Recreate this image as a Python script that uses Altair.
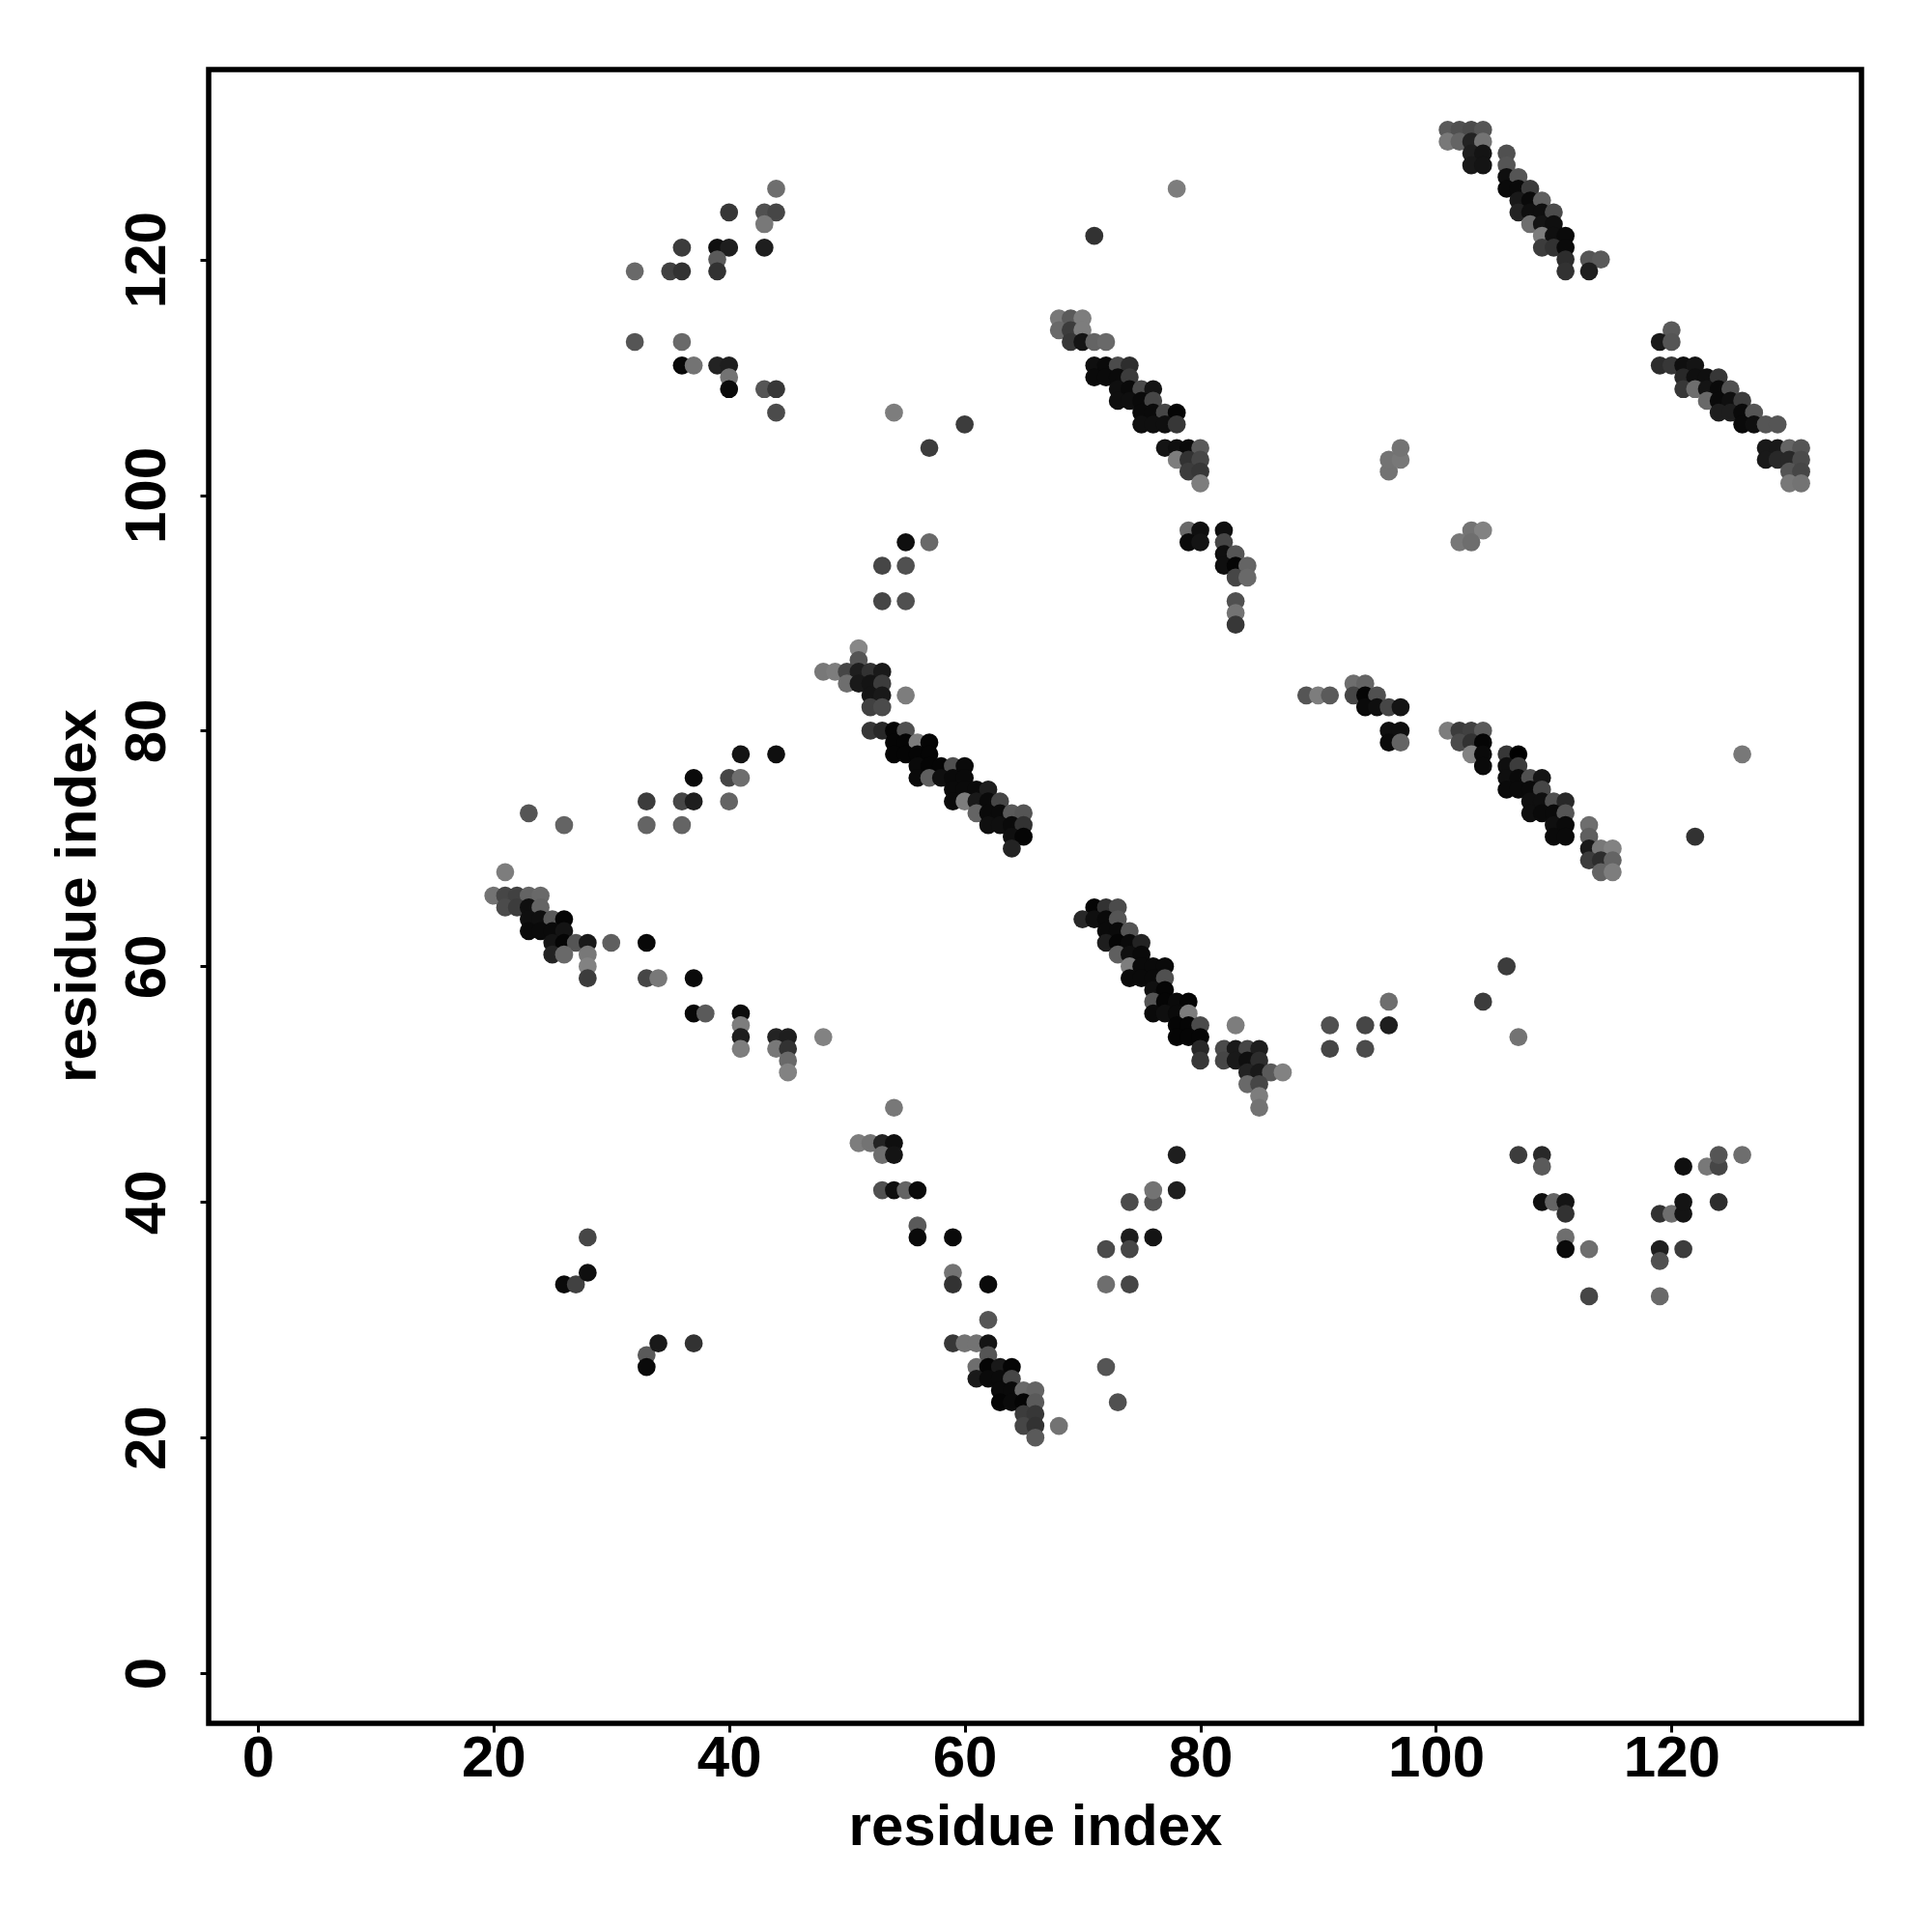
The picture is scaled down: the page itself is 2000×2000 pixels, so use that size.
import altair as alt
import pandas as pd

# one entry per row of the contact map: y residue, x residues on that row, grey level of each
y_rows = [
    68, 66, 65, 64, 63, 62, 61, 60, 59, 56, 55, 54, 53, 52, 51,
    87, 86, 85, 84, 83, 82, 80, 79, 78, 77, 76, 75, 74, 73, 72, 71, 70,
    115, 114, 113, 111, 110, 109, 108, 107, 106, 104, 103, 102, 101,
    131, 130, 129, 128, 127, 126, 125, 124, 123, 122, 121, 120, 119,
    114, 113, 111, 110, 109, 108, 107, 106, 104, 103, 102, 101,
    65, 64, 63, 62, 61, 60, 59, 58, 57, 56, 55, 54, 53, 52, 51, 50, 49, 48, 55,
    80, 79, 78, 77, 76, 75, 74, 73, 72, 71, 70, 69, 68,
    30, 28, 27, 26, 25, 24, 23, 22, 21, 20,
    97, 96, 95, 94, 93, 91, 90, 89,
    84, 83, 82, 80, 79,
    126, 124, 123, 121, 120, 119, 113, 111, 110, 109, 107,
    107, 104, 106, 122, 126, 102, 103, 104, 97, 96, 96, 94, 91,
    73, 72, 74, 72, 76, 78,
    78, 71, 60, 57, 54, 55, 53, 57,
    44, 43, 40, 39, 37, 36, 32,
    39, 40, 43, 44, 36, 35, 32,
    48, 45, 44, 41, 38, 37, 34, 33,
    36, 33, 40, 37, 36, 33, 41, 44,
    26, 23, 33, 34, 37, 27, 26, 28, 28,
]
x_rows = [
    [21], [20, 21, 22, 23, 24], [21, 22, 23, 24], [23, 24, 25, 26], [23, 24, 25, 26],
    [25, 26, 27, 28, 30, 33], [25, 26, 28], [28], [28, 33, 34, 37], [37, 38, 41], [41],
    [41, 44, 45, 48], [41, 44, 45], [45], [45],
    [51], [51], [48, 49, 50, 51, 52, 53], [50, 51, 52, 53], [52, 53, 55], [52, 53],
    [52, 53, 54, 55], [54, 55, 56, 57], [54, 55, 56, 57], [56, 57, 58, 59, 60],
    [56, 57, 58, 59, 60], [59, 60, 61, 62], [59, 60, 61, 62, 63], [61, 62, 63, 64, 65],
    [62, 63, 64, 65], [64, 65], [64],
    [68, 69, 70], [68, 69, 70], [69, 70, 71, 72], [71, 72, 73, 74], [71, 72, 73, 74],
    [73, 74, 75, 76], [73, 74, 75, 76], [75, 76, 77, 78], [75, 76, 77, 78],
    [77, 78, 79, 80], [78, 79, 80], [79, 80], [80],
    [101, 102, 103, 104], [101, 102, 103, 104], [103, 104, 106], [103, 104, 106],
    [106, 107], [106, 107, 108], [107, 108, 109], [107, 108, 109, 110], [108, 109, 110],
    [109, 110, 111], [109, 110, 111], [111, 113, 114], [111, 113],
    [120], [119, 120], [119, 120, 121, 122], [121, 122, 123, 124], [121, 122, 123, 124, 125],
    [123, 124, 125, 126], [124, 125, 126, 127], [126, 127, 128, 129], [128, 129, 130, 131],
    [128, 129, 130, 131], [130, 131], [130, 131],
    [71, 72, 73], [70, 71, 72, 73], [72, 73, 74], [72, 73, 74, 75], [73, 74, 75],
    [74, 75, 76, 77], [74, 75, 76, 77], [76, 77], [76, 77, 78, 79], [76, 77, 78, 79],
    [78, 79, 80], [78, 79, 80], [80, 82, 83, 84, 85], [80, 82, 83, 84, 85], [84, 85, 86, 87],
    [84, 85], [85], [85], [83],
    [101, 102, 103, 104], [102, 103, 104], [103, 104, 106, 107], [104, 106, 107],
    [106, 107, 108, 109], [106, 107, 108, 109], [108, 109, 110, 111], [108, 109, 110, 111],
    [110, 111, 113], [110, 111, 113], [113, 114, 115], [113, 114, 115], [114, 115],
    [62], [59, 60, 61, 62], [62], [61, 62, 63, 64], [61, 62, 63, 64], [63, 64, 65, 66],
    [63, 64, 65, 66], [65, 66], [65, 66, 68], [66],
    [79, 80, 82], [79, 80, 82], [82, 83], [82, 83, 84], [83, 84], [83], [83], [83],
    [93, 94], [89, 90, 91, 93, 94, 95], [94, 95, 96, 97], [96, 97], [96, 97],
    [44], [40, 43, 44], [43], [36, 39, 40, 43], [39], [32, 35, 36, 39], [32, 36],
    [36, 37, 39, 40], [40], [40, 43, 44], [44],
    [54], [57], [60], [71], [78], [96], [96, 97], [97], [103, 104], [102, 103], [55, 57],
    [53, 55], [53, 55],
    [23], [26], [33, 36, 37, 40], [33, 36], [37, 40, 41], [41, 44],
    [126], [122], [106], [104], [107], [91, 94, 96], [91, 94], [96],
    [107, 109], [109], [109, 110, 111], [111], [111], [111, 113], [113],
    [119, 120, 121], [121, 124], [121, 123, 124], [124, 126], [119, 121], [119], [119],
    [54], [51, 52, 53, 54], [53, 54], [53, 54, 55, 56], [56], [56, 59], [59], [59, 62],
    [72], [72], [74, 76], [74, 76], [74], [74], [76, 78], [78],
    [72], [73], [26, 27], [28], [28], [33], [33], [34], [37],
]
gray_rows = [
    [125], [115, 70, 65, 100, 105], [75, 60, 15, 100], [15, 15, 90, 5], [10, 10, 10, 20],
    [20, 5, 85, 25, 95, 8], [35, 105, 120], [130], [60, 70, 120, 10], [8, 90, 12], [125],
    [30, 35, 30, 130], [125, 120, 50], [105], [130],
    [135], [85], [120, 125, 70, 30, 50, 25], [110, 25, 20, 60], [20, 25, 125], [65, 75],
    [55, 40, 5, 80], [5, 5, 125, 5], [5, 5, 5, 5], [10, 5, 5, 80, 10],
    [10, 95, 15, 10, 10], [10, 10, 10, 30], [10, 125, 25, 10, 70], [100, 10, 10, 90, 85],
    [15, 15, 10, 50], [15, 5], [35],
    [120, 90, 125], [105, 60, 125], [55, 20, 100, 105], [15, 10, 75, 45], [10, 10, 10, 60],
    [15, 10, 75, 20], [15, 15, 10, 70], [10, 10, 70, 5], [15, 15, 15, 55],
    [20, 15, 10, 90], [125, 50, 70], [60, 55], [125],
    [90, 80, 75, 85], [120, 100, 35, 115], [30, 20, 80], [25, 20, 85],
    [15, 85], [10, 10, 60], [25, 10, 95], [35, 15, 15, 75], [110, 20, 15],
    [125, 15, 10], [60, 50, 10], [45, 85, 90], [50, 30],
    [90], [25, 85], [45, 55, 15, 20], [40, 15, 15, 55], [55, 110, 20, 10, 80],
    [105, 10, 15, 60], [30, 30, 10, 85], [10, 15, 85, 85], [25, 25, 100, 85],
    [25, 40, 40, 75], [85, 70], [120, 115],
    [5, 50, 75], [40, 15, 10, 85], [10, 10, 85], [30, 5, 10, 35], [95, 15, 10],
    [125, 10, 10, 10], [10, 10, 10, 80], [15, 5], [85, 5, 10, 5], [10, 15, 10, 125],
    [5, 5, 75], [5, 5, 5], [40, 75, 25, 70, 30], [55, 70, 25, 15, 45], [35, 25, 90, 130],
    [105, 70], [125], [115], [125],
    [125, 60, 65, 90], [75, 50, 5], [130, 10, 55, 0], [10, 15, 60],
    [15, 10, 80, 20], [10, 10, 10, 70], [15, 15, 80, 40], [15, 10, 10, 85],
    [15, 10, 110], [10, 10, 95], [25, 120, 130], [60, 45, 100], [100, 125],
    [85], [55, 115, 115, 20], [85], [110, 5, 25, 5], [25, 10, 10, 70], [10, 10, 105, 100],
    [5, 10, 5, 90], [60, 55], [70, 50, 115], [90],
    [105, 15, 15], [10, 20, 70], [15, 85], [15, 5, 100], [70, 105], [80], [115], [55],
    [110, 100], [85, 125, 90, 70, 5, 80], [10, 15, 70, 20], [15, 15], [10, 100],
    [110], [55, 80, 70], [120], [60, 15, 30, 30], [90], [105, 65, 50, 50], [85, 105],
    [8, 115, 35, 30], [115], [10, 85, 55], [75],
    [125], [60], [60], [50], [125], [115], [115, 120], [115], [115, 130], [120, 110], [15, 105],
    [70, 80], [70, 80],
    [85], [100], [60, 70, 30, 100], [100, 100], [10, 70, 110], [20, 15],
    [120], [50], [60], [60], [115], [80, 70, 30], [70, 75], [110],
    [60, 40], [90], [15, 100, 20], [50], [110], [10, 110], [70],
    [50, 110, 20], [20, 45], [15, 120, 70], [85, 110], [30, 60], [80], [105],
    [120], [125, 115, 35, 15], [110, 20], [80, 15, 100, 10], [90], [10, 10], [115], [50, 10],
    [75], [110], [75, 85], [30, 20], [70], [70], [115, 30], [30],
    [85], [80], [10, 65], [15], [70], [90], [10], [25], [50],
]
tick_values = [0, 20, 40, 60, 80, 100, 120]
axis_label = "residue index"

assert len(y_rows) == len(x_rows) == len(gray_rows), (len(y_rows), len(x_rows), len(gray_rows))
rows = []
for y, xs, gs in zip(y_rows, x_rows, gray_rows):
    assert len(xs) == len(gs), (y, xs, gs)
    for x, g in zip(xs, gs):
        rows.append({"x": x, "y": y, "c": f"#{g:02x}{g:02x}{g:02x}"})
df = pd.DataFrame(rows)

FONT = "Liberation Sans"
chart = alt.Chart(df).mark_circle(size=350, opacity=1).encode(
    x=alt.X("x:Q", scale=alt.Scale(domain=[-4.17, 136.12], nice=False, zero=False), axis=alt.Axis(
        values=tick_values, title=axis_label, grid=False, domain=False, tickSize=9, tickWidth=3,
        tickColor="black", labelFont=FONT, labelFontWeight="bold", labelFontSize=60, labelColor="black",
        labelBaseline="alphabetic", labelPadding=45, labelFlush=False, labelOverlap=False,
        titleFont=FONT, titleFontWeight="bold", titleFontSize=60, titleColor="black",
        titleBaseline="alphabetic", titleAlign="center", titleX=855.5, titleY=125)),
    y=alt.Y("y:Q", scale=alt.Scale(domain=[-4.25, 136.12], nice=False, zero=False), axis=alt.Axis(
        values=tick_values, title=axis_label, grid=False, domain=False, tickSize=9, tickWidth=3,
        tickColor="black", labelFont=FONT, labelFontWeight="bold", labelFontSize=60, labelColor="black",
        labelAngle=270, labelAlign="center", labelBaseline="alphabetic", labelPadding=37,
        labelFlush=False, labelOverlap=False,
        titleFont=FONT, titleFontWeight="bold", titleFontSize=60, titleColor="black",
        titleAngle=270, titleBaseline="alphabetic", titleAlign="center", titleX=-118, titleY=855)),
    color=alt.Color("c:N", scale=None),
    order=alt.Order("idx:Q"),
).transform_window(idx="row_number()").properties(
    width=1711, height=1712,
    autosize=alt.AutoSizeParams(type="none"),
    padding={"left": 208, "top": 64, "right": 60, "bottom": 200},
).configure(background="white").configure_view(stroke="black", strokeWidth=5.5)

chart.save("out.html", embed_options={"renderer": "svg", "actions": False})
